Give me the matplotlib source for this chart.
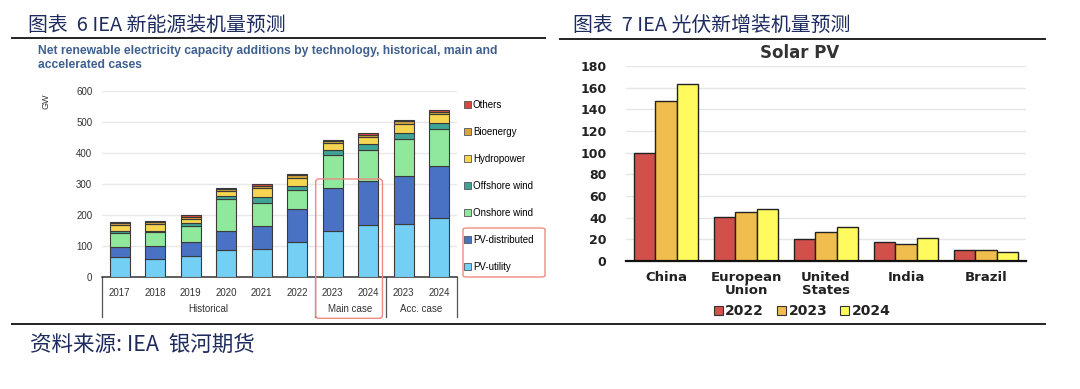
import numpy as np
import matplotlib.pyplot as plt
from matplotlib.patches import Patch, FancyBboxPatch
from matplotlib.lines import Line2D
from matplotlib.transforms import blended_transform_factory

plt.rcParams['font.family'] = ['Liberation Sans', 'DejaVu Sans']

# ==============================
# data: left chart (IEA, GW)
# ==============================
years = ['2017', '2018', '2019', '2020', '2021', '2022', '2023', '2024', '2023', '2024']
groups = ['Historical', 'Main case', 'Acc. case']
group_span = [(0, 5), (6, 7), (8, 9)]

pv_utility = [63, 58, 68, 87, 89, 114, 150, 167, 171, 191]
pv_distributed = [35, 42, 45, 62, 76, 105, 136, 143, 155, 167]
onshore_wind = [45, 44, 51, 103, 73, 62, 107, 100, 118, 121]
offshore_wind = [4, 5, 9, 8, 20, 11, 16, 18, 22, 19]
hydropower = [21, 23, 14, 17, 30, 28, 22, 23, 29, 27]
bioenergy = [7, 7, 8, 7, 7, 8, 8, 8, 7, 8]
others = [3, 3, 5, 4, 4, 5, 3, 4, 4, 5]

tech_names = ['PV-utility', 'PV-distributed', 'Onshore wind', 'Offshore wind',
              'Hydropower', 'Bioenergy', 'Others']
tech_values = [pv_utility, pv_distributed, onshore_wind, offshore_wind,
               hydropower, bioenergy, others]
tech_colors = ['#74cff5', '#4a72c4', '#90e89c', '#3ea596', '#f6d550', '#d6a63c', '#d9473f']

# ==============================
# data: right chart (Solar PV)
# ==============================
countries = ['China', 'European\nUnion', 'United\nStates', 'India', 'Brazil']
pv_2022 = [100, 41, 20, 18, 10]
pv_2023 = [148, 45, 27, 16, 10]
pv_2024 = [163, 48, 31, 21, 8]
pv_years = ['2022', '2023', '2024']
pv_colors = ['#d2504a', '#f1bd4e', '#fffb5e']

W, H = 1080, 389
navy = '#1d2b5e'


def fx(x):
    return x / W


def fy(y):
    return 1 - y / H


fig = plt.figure(figsize=(W / 100, H / 100), dpi=100)

# ==============================
# headings, rules, source
# ==============================
cjk = ['Noto Sans CJK SC', 'DejaVu Sans']
fig.text(fx(28), fy(25), '图表  6 IEA 新能源装机量预测', family=cjk, fontsize=14.3,
         color=navy, va='center', ha='left')
fig.text(fx(573), fy(25), '图表  7 IEA 光伏新增装机量预测', family=cjk, fontsize=14.3,
         color=navy, va='center', ha='left')
fig.text(fx(30), fy(346), '资料来源: IEA  银河期货', family=cjk, fontsize=15.5,
         color=navy, va='center', ha='left')

for xs, ys in [((12, 545), (38, 38)), ((560, 1045), (39, 39)), ((12, 1045), (324, 324))]:
    fig.add_artist(Line2D([fx(xs[0]), fx(xs[1])], [fy(ys[0]), fy(ys[1])],
                          transform=fig.transFigure, color='#222222', lw=1.4))

fig.text(fx(38), fy(58), 'Net renewable electricity capacity additions by technology, historical, main and\naccelerated cases',
         fontsize=8.7, fontweight='bold', color='#3f5f8f', va='center', ha='left', linespacing=1.2)

# ==============================
# left chart
# ==============================
ax = fig.add_axes([fx(102), fy(277), (457 - 102) / W, (277 - 91) / H])
x = np.arange(len(years))
bottom = np.zeros(len(years))
for name, vals, col in zip(tech_names, tech_values, tech_colors):
    ax.bar(x, vals, width=0.57, bottom=bottom, color=col, edgecolor='#3a3a3a',
           linewidth=0.8, label=name, zorder=3)
    bottom += np.array(vals)

ax.set_xlim(-0.5, len(years) - 0.5)
ax.set_ylim(0, 600)
ax.set_yticks(np.arange(0, 601, 100))
ax.grid(axis='y', color='#e8e8e8', lw=1, zorder=0)
ax.set_xticks(x)
ax.set_xticklabels(years)
ax.tick_params(axis='both', length=0, labelsize=7, colors='#333333')
ax.tick_params(axis='x', pad=8)
ax.tick_params(axis='y', pad=7)
for s in ['top', 'right', 'left']:
    ax.spines[s].set_visible(False)
ax.spines['bottom'].set_color('#333333')
ax.spines['bottom'].set_linewidth(1.1)

fig.text(fx(46), fy(101), 'GW', rotation=90, fontsize=6.5, color='#333333', va='center', ha='center')

trans = blended_transform_factory(ax.transData, ax.transAxes)
for sep in [-0.5, 5.5, 7.5, 9.5]:
    ax.add_line(Line2D([sep, sep], [0, -0.215], transform=trans, color='#555555',
                       lw=0.9, clip_on=False))
for g, (a, b) in zip(groups, group_span):
    ax.text((a + b) / 2, -0.17, g, transform=trans, fontsize=7, color='#333333',
            ha='center', va='center')

# red rounded box around main case (display coordinates)
p0 = trans.transform((5.52, -0.222))
p1 = trans.transform((7.4, 0.527))
fig.add_artist(FancyBboxPatch((p0[0], p0[1]), p1[0] - p0[0], p1[1] - p0[1],
                              boxstyle='round,pad=0,rounding_size=3', transform=None,
                              fill=False, edgecolor='#f08a84', lw=1.0))

handles = [Patch(facecolor=c, edgecolor='#555555', lw=0.6) for c in tech_colors][::-1]
fig.legend(handles, tech_names[::-1], loc='upper left', bbox_to_anchor=(fx(464), fy(100)),
           frameon=False, fontsize=7, handlelength=0.75, handleheight=0.75,
           handletextpad=0.15, labelspacing=1.74, borderaxespad=0, borderpad=0)

fig.add_artist(FancyBboxPatch((fx(463), fy(277)), fx(545) - fx(463), fy(228) - fy(277),
                              boxstyle='round,pad=0,rounding_size=0.004',
                              transform=fig.transFigure, fill=False,
                              edgecolor='#f08a84', lw=1.0))

# ==============================
# right chart
# ==============================
ax2 = fig.add_axes([fx(626), fy(261), 400 / W, (261 - 66) / H])
xc = np.arange(len(countries))
bw = 0.27
for i, (vals, col, lab) in enumerate(zip([pv_2022, pv_2023, pv_2024], pv_colors, pv_years)):
    ax2.bar(xc + (i - 1) * bw, vals, width=bw, color=col, edgecolor='#222222',
            linewidth=1.0, label=lab, zorder=3)

ax2.set_xlim(-0.5, len(countries) - 0.5)
ax2.set_ylim(0, 180)
ax2.set_yticks(np.arange(0, 181, 20))
ax2.grid(axis='y', color='#e6e6e6', lw=1, zorder=0)
ax2.set_xticks(xc)
ax2.set_xticklabels(countries, linespacing=1.05)
for lbl in ax2.get_xticklabels() + ax2.get_yticklabels():
    lbl.set_family('DejaVu Sans')
    lbl.set_fontweight('bold')
ax2.tick_params(axis='both', length=0, colors='#222222')
ax2.tick_params(axis='y', labelsize=9, pad=14)
ax2.tick_params(axis='x', labelsize=9.5, pad=7)
for s in ['top', 'right', 'left']:
    ax2.spines[s].set_visible(False)
ax2.spines['bottom'].set_color('#111111')
ax2.spines['bottom'].set_linewidth(1.6)
ax2.spines['bottom'].set_zorder(4)

fig.text(fx(800), fy(53), 'Solar PV', fontsize=12, fontweight='bold', family='DejaVu Sans',
         color='#333333', ha='center', va='center')

h2 = [Patch(facecolor=c, edgecolor='#333333', lw=0.8) for c in pv_colors]
leg2 = fig.legend(h2, pv_years, loc='center', bbox_to_anchor=(fx(802), fy(311)), ncol=3,
                  frameon=False, handlelength=0.7, handleheight=0.6, handletextpad=0.15,
                  columnspacing=0.9, borderaxespad=0, borderpad=0,
                  prop={'family': 'DejaVu Sans', 'weight': 'bold', 'size': 10})
for t in leg2.get_texts():
    t.set_color('#222222')

fig.savefig('out.png', dpi=100)
